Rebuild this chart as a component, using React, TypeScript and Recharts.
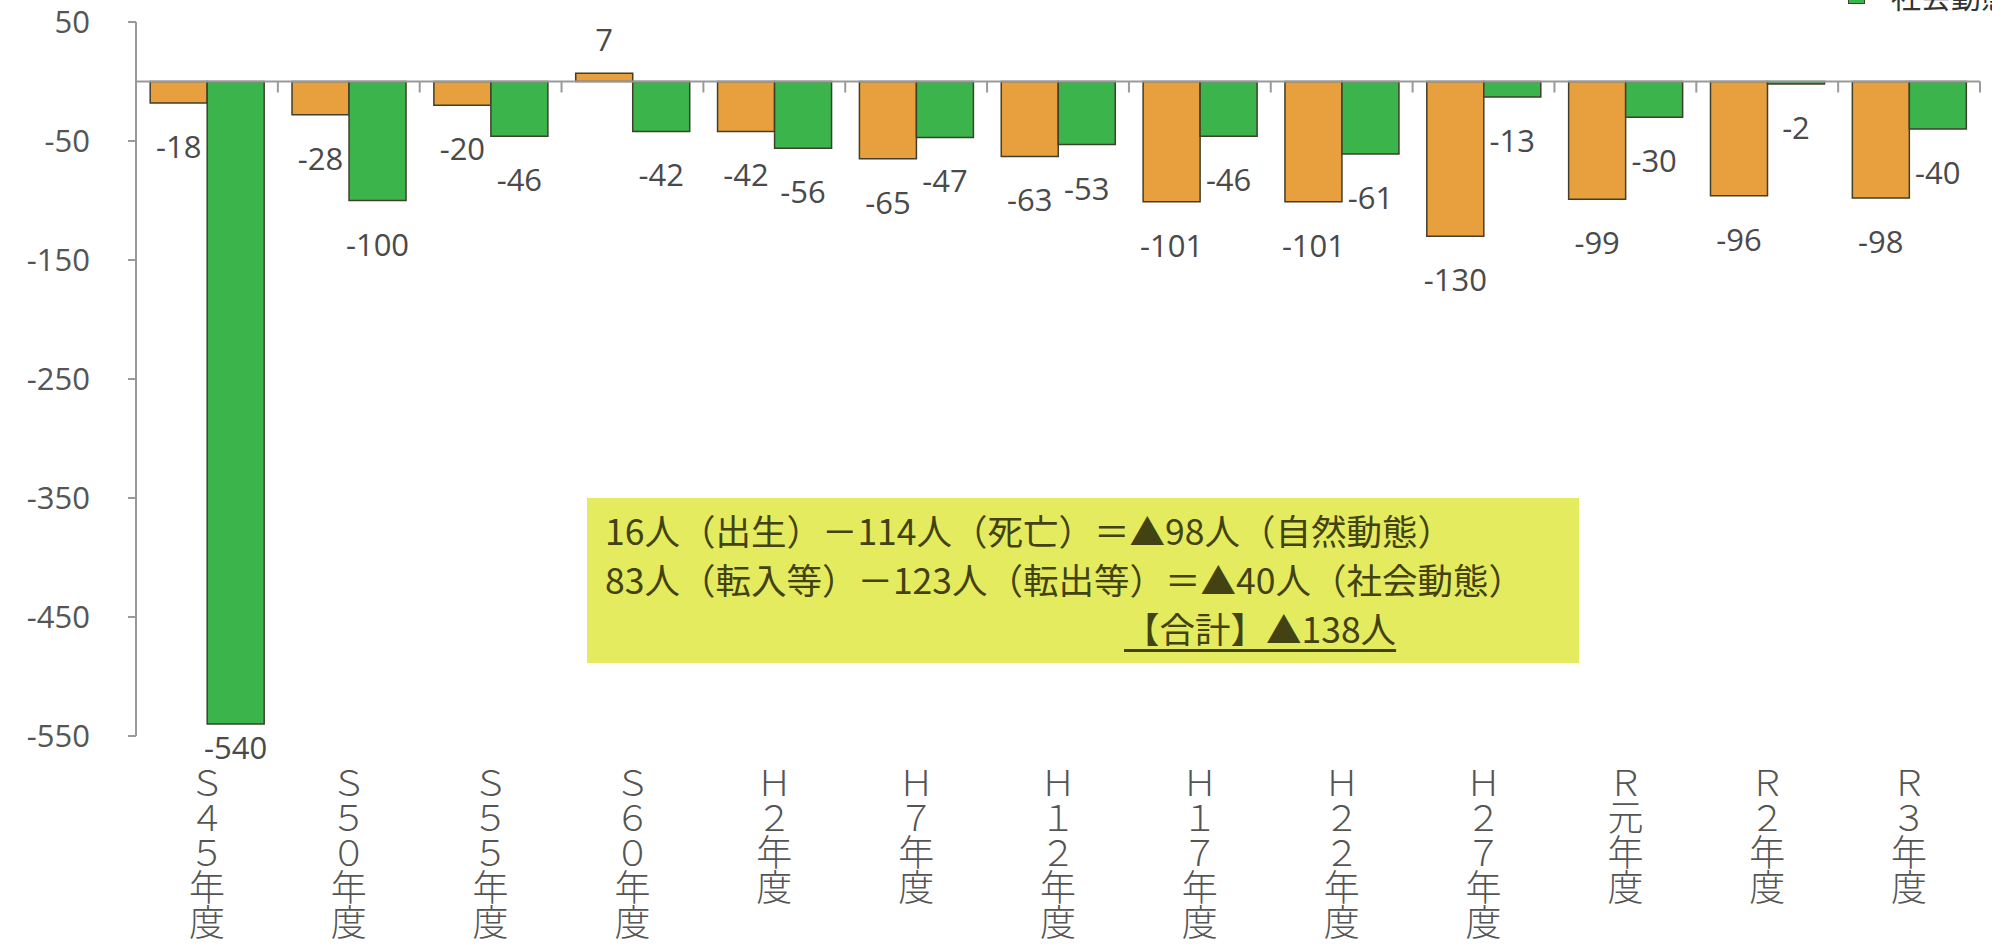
import React from "react";
import { BarChart, Bar, XAxis, YAxis, ReferenceLine, LabelList } from "recharts";

const categories = ["S45年度", "S50年度", "S55年度", "S60年度", "H2年度", "H7年度", "H12年度", "H17年度", "H22年度", "H27年度", "R元年度", "R2年度", "R3年度"];
const natural = [-18, -28, -20, 7, -42, -65, -63, -101, -101, -130, -99, -96, -98];
const social = [-540, -100, -46, -42, -56, -47, -53, -46, -61, -13, -30, -2, -40];
const yTicks = [50, -50, -150, -250, -350, -450, -550];
const seriesNames = ["自然動態", "社会動態"];
const notes = [
  "16人（出生）－114人（死亡）＝▲98人（自然動態）",
  "83人（転入等）－123人（転出等）＝▲40人（社会動態）",
];
const total = "【合計】▲138人";

const data = categories.map((c, i) => ({ name: c, natural: natural[i], social: social[i] }));

const W = 1992, H = 947;
const PLOT_TOP = 22, PLOT_BOTTOM = 736, PLOT_LEFT = 136, PLOT_RIGHT = 1980;
const Y_MAX = 50, Y_MIN = -550;
const ZERO_Y = PLOT_TOP + (Y_MAX / (Y_MAX - Y_MIN)) * (PLOT_BOTTOM - PLOT_TOP);
const STEP = (PLOT_RIGHT - PLOT_LEFT) / categories.length;

const ORANGE = "#E8A03E";
const GREEN = "#3BB54B";
const EDGE = "#3f3f2c";
const AXIS_GREY = "#9a9a9a";
const TEXT = "#4a4a4a";
const NUM_FONT = "'Open Sans', 'Noto Sans', sans-serif";
const JP_FONT = "'Noto Sans CJK JP', sans-serif";

const toFull = (s: string) =>
  s.replace(/[A-Za-z0-9]/g, ch => String.fromCharCode(ch.charCodeAt(0) + 0xfee0));

const CatTick = ({ x, payload, index }: any) => {
  const chars = toFull(String(payload.value)).split("");
  return (
    <g>
      <text x={x} y={796} textAnchor="middle" fontSize={36} fontFamily={JP_FONT} fontWeight={300} fill="#555">
        {chars.map((c, i) => (
          <tspan key={i} x={x} dy={i === 0 ? 0 : 35}>{c}</tspan>
        ))}
      </text>
      <line x1={x - STEP / 2} x2={x - STEP / 2} y1={ZERO_Y} y2={ZERO_Y + 11} stroke={AXIS_GREY} strokeWidth={2} />
      {index === categories.length - 1 && (
        <line x1={x + STEP / 2} x2={x + STEP / 2} y1={ZERO_Y} y2={ZERO_Y + 11} stroke={AXIS_GREY} strokeWidth={2} />
      )}
    </g>
  );
};

const ValueLabel = (props: any) => {
  const { x, y, width, height, value } = props;
  const top = Math.min(y, y + height);
  const bottom = Math.max(y, y + height);
  let cy = value < 0 ? bottom + 43 : top - 34;
  if (cy > PLOT_BOTTOM + 11) cy = PLOT_BOTTOM + 11;
  return (
    <text x={x + width / 2} y={cy} textAnchor="middle" dominantBaseline="central"
      fontSize={31} fontFamily={NUM_FONT} fill={TEXT}>{value}</text>
  );
};

export default function App() {
  return (
    <div style={{ position: "absolute", left: 0, top: 0, width: W, height: H, overflow: "hidden", background: "#fff" }}>
      <BarChart width={W} height={H} data={data} margin={{ top: PLOT_TOP, right: W - PLOT_RIGHT, left: 0, bottom: 0 }}
        barCategoryGap="10%" barGap={0}>
        <XAxis dataKey="name" height={H - PLOT_BOTTOM} axisLine={false} tickLine={false}
          interval={0} tick={<CatTick />} />
        <YAxis width={PLOT_LEFT} domain={[Y_MIN, Y_MAX]} ticks={yTicks} allowDataOverflow
          axisLine={{ stroke: AXIS_GREY, strokeWidth: 2 }} tickLine={{ stroke: AXIS_GREY, strokeWidth: 2 }}
          tickSize={8} tickMargin={38}
          tick={{ fill: "#555", fontSize: 31, fontFamily: NUM_FONT }} />
        <ReferenceLine y={0} stroke={AXIS_GREY} strokeWidth={2} />
        <Bar dataKey="natural" name={seriesNames[0]} fill={ORANGE} stroke={EDGE} strokeWidth={1.5} isAnimationActive={false}>
          <LabelList dataKey="natural" content={<ValueLabel />} />
        </Bar>
        <Bar dataKey="social" name={seriesNames[1]} fill={GREEN} stroke={EDGE} strokeWidth={1.5} isAnimationActive={false}>
          <LabelList dataKey="social" content={<ValueLabel />} />
        </Bar>
      </BarChart>
      {/* legend sits mostly above the visible area, as in the scan */}
      <div style={{ position: "absolute", left: 1848, top: -65, fontFamily: JP_FONT, fontSize: 30, color: "#333", lineHeight: "40px" }}>
        {seriesNames.map((t, i) => (
          <div key={t} style={{ display: "flex", alignItems: "center", whiteSpace: "nowrap" }}>
            <span style={{ width: 15, height: 15, background: i === 0 ? ORANGE : GREEN, border: `1px solid ${EDGE}`, marginRight: 26 }} />
            {t}
          </div>
        ))}
      </div>
      <div style={{
        position: "absolute", left: 587, top: 498, width: 992, height: 165, background: "#E5EB5F",
        boxSizing: "border-box", padding: "7px 0 0 18px", fontFamily: JP_FONT, fontSize: 35.5,
        color: "#424212", lineHeight: "49px", whiteSpace: "nowrap",
      }}>
        {notes.map(n => <div key={n}>{n}</div>)}
        <div style={{ paddingLeft: 519 }}>
          <span style={{ textDecoration: "underline", textUnderlineOffset: 6 }}>{total}</span>
        </div>
      </div>
    </div>
  );
}
